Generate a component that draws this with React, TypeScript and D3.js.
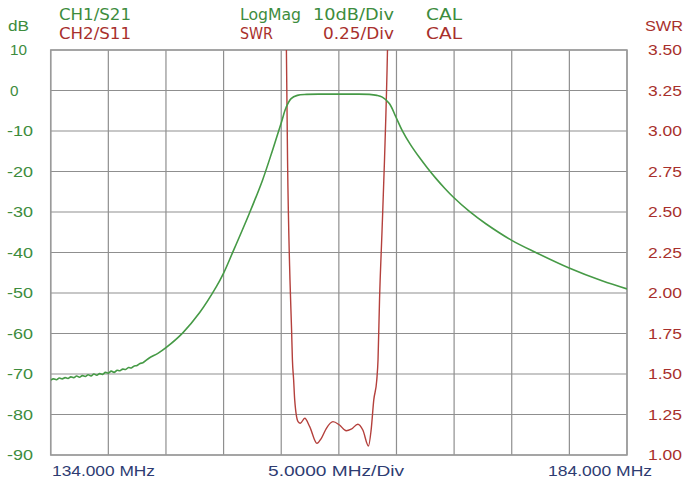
import React from 'react';
import * as d3 from 'd3';

// CH1 / S21, dB vs MHz
const s21Freq = [
  134.0, 134.25, 134.5, 134.75, 135.0, 135.25, 135.5, 135.75, 136.0, 136.25, 136.5, 136.75,
  137.0, 137.25, 137.5, 137.75, 138.0, 138.25, 138.5, 138.75, 139.0, 139.25, 139.5, 139.75,
  140.0, 140.25, 140.5, 140.75, 141.0, 141.25, 141.5, 141.75, 142.0, 142.58, 143.3, 144.0,
  145.44, 146.91, 148.36, 149.0, 149.77, 151.24, 152.37, 153.24, 153.99, 154.42, 154.86,
  155.4, 156.2, 158.0, 160.0, 161.64, 162.3, 162.77, 163.38, 163.96, 164.5, 165.2, 165.98,
  166.7, 167.42, 168.2, 168.92, 170.3, 171.75, 174.0, 176.09, 179.03, 181.83, 184.0,
];
const s21Db = [
  -71.5, -71.2, -71.4, -71.0, -71.2, -70.9, -71.1, -70.7, -70.9, -70.5, -70.8, -70.4,
  -70.6, -70.2, -70.5, -70.0, -70.3, -69.9, -70.1, -69.6, -69.8, -69.3, -69.6, -69.1,
  -69.2, -68.8, -68.9, -68.4, -68.5, -68.0, -67.9, -67.4, -67.2, -66.0, -64.9, -63.5,
  -59.9, -54.9, -48.5, -45.1, -40.1, -30.3, -22.2, -14.8, -8.1, -4.2, -2.0,
  -1.2, -0.95, -0.9, -0.9, -0.95, -1.2, -1.65, -3.2, -6.6, -9.9, -13.3, -16.5,
  -19.2, -21.7, -24.2, -26.3, -29.8, -32.9, -37.0, -40.0, -43.9, -47.0, -49.0,
];

// CH2 / S11, SWR vs MHz
const swrFreq = [
  154.38, 154.45, 154.55, 154.76, 154.9, 154.97, 155.08, 155.17, 155.46, 155.66, 156.04,
  156.47, 157.1, 157.48, 157.92, 158.49, 159.06, 159.64, 160.07, 160.65, 161.08, 161.57,
  161.8, 162.03, 162.29, 162.4, 162.53, 162.75, 162.96, 163.22, 163.32,
];
const swrVal = [
  3.9, 3.5, 2.82, 2.08, 1.77, 1.59, 1.46, 1.34, 1.206, 1.196, 1.227,
  1.175, 1.072, 1.103, 1.165, 1.206, 1.185, 1.15, 1.159, 1.19, 1.154, 1.056,
  1.154, 1.34, 1.463, 1.59, 1.96, 2.39, 2.82, 3.5, 3.9,
];

const dbTicks = [10, 0, -10, -20, -30, -40, -50, -60, -70, -80, -90];
const swrTicks = [3.5, 3.25, 3.0, 2.75, 2.5, 2.25, 2.0, 1.75, 1.5, 1.25, 1.0];
const freqGrid = [134, 139, 144, 149, 154, 159, 164, 169, 174, 179, 184];

const W = 684;
const H = 484;
const left = 50.7;
const right = 627;
const top = 50;
const bottom = 455;

const GREEN = '#3d8c3d';
const GREEN_LINE = '#469a46';
const RED = '#a8302c';
const RED_LINE = '#b4403c';
const NAVY = '#2e3c72';
const GRID = '#8f8f8f';

export default function App() {
  const x = d3.scaleLinear().domain([134, 184]).range([left, right]);
  const yDb = d3.scaleLinear().domain([-90, 10]).range([bottom, top]);
  const ySwr = d3.scaleLinear().domain([1.0, 3.5]).range([bottom, top]);

  const s21 = s21Freq.map((f, i) => [f, s21Db[i]] as [number, number]);
  const swr = swrFreq.map((f, i) => [f, swrVal[i]] as [number, number]);

  const lineDb = d3
    .line<[number, number]>()
    .x((d) => x(d[0]))
    .y((d) => yDb(d[1]))
    .curve(d3.curveCatmullRom.alpha(0.5));
  const lineSwr = d3
    .line<[number, number]>()
    .x((d) => x(d[0]))
    .y((d) => ySwr(d[1]))
    .curve(d3.curveMonotoneX);

  const font = '"Liberation Sans", Arial, sans-serif';
  const headFont = '"DejaVu Sans Condensed", "DejaVu Sans", sans-serif';

  // helper for stretched instrument-style text
  const T = (
    key: string,
    tx: number,
    ty: number,
    s: string,
    len: number,
    fill: string,
    ff: string,
    size = 15,
    dy?: string
  ) => (
    <text
      key={key}
      x={tx}
      y={ty}
      dy={dy}
      fill={fill}
      fontFamily={ff}
      fontSize={size}
      textLength={len}
      lengthAdjust="spacingAndGlyphs"
    >
      {s}
    </text>
  );

  return (
    <svg
      width={W}
      height={H}
      style={{ position: 'absolute', left: 0, top: 0, background: '#fff' }}
    >
      <defs>
        <clipPath id="plot">
          <rect x={left} y={top} width={right - left} height={bottom - top} />
        </clipPath>
      </defs>

      {/* grid */}
      {freqGrid.map((f) => (
        <line key={'v' + f} x1={x(f)} x2={x(f)} y1={top} y2={bottom} stroke={GRID} strokeWidth={1.2} />
      ))}
      {dbTicks.map((d) => (
        <line key={'h' + d} x1={left} x2={right} y1={yDb(d)} y2={yDb(d)} stroke={GRID} strokeWidth={1.2} />
      ))}
      <rect
        x={left}
        y={top}
        width={right - left}
        height={bottom - top}
        fill="none"
        stroke="#9a9a9a"
        strokeWidth={1.5}
      />

      {/* traces */}
      <g clipPath="url(#plot)">
        <path d={lineSwr(swr) || ''} fill="none" stroke={RED_LINE} strokeWidth={1.4} />
        <path d={lineDb(s21) || ''} fill="none" stroke={GREEN_LINE} strokeWidth={1.6} />
      </g>

      {/* left axis */}
      {T('dbt', 8, 31, 'dB', 21, GREEN, font)}
      {dbTicks.map((d) =>
        T('tl' + d, d < 0 ? 7 : 10, yDb(d), String(d), d < 0 ? 26 : d === 0 ? 8.5 : 17, GREEN, font, 15, '0.35em')
      )}

      {/* right axis */}
      {T('swrt', 645, 31, 'SWR', 38, RED, font)}
      {swrTicks.map((s) => T('tr' + s, 648, ySwr(s), s.toFixed(2), 34, RED, font, 15, '0.35em'))}

      {/* header */}
      {T('h1', 59, 20, 'CH1/S21', 72, GREEN, headFont, 16)}
      {T('h2', 59, 39, 'CH2/S11', 72, RED, headFont, 16)}
      {T('h3', 240, 20, 'LogMag', 61, GREEN, headFont, 16)}
      {T('h4', 240, 39, 'SWR', 33, RED, headFont, 16)}
      {T('h5', 313, 20, '10dB/Div', 81, GREEN, headFont, 16)}
      {T('h6', 323, 39, '0.25/Div', 71, RED, headFont, 16)}
      {T('h7', 426, 20, 'CAL', 36, GREEN, headFont, 16)}
      {T('h8', 426, 39, 'CAL', 36, RED, headFont, 16)}

      {/* bottom */}
      {T('b1', 52, 476, '134.000 MHz', 103, NAVY, font)}
      {T('b2', 268, 476, '5.0000 MHz/Div', 136, NAVY, font)}
      {T('b3', 548, 476, '184.000 MHz', 104, NAVY, font)}
    </svg>
  );
}
